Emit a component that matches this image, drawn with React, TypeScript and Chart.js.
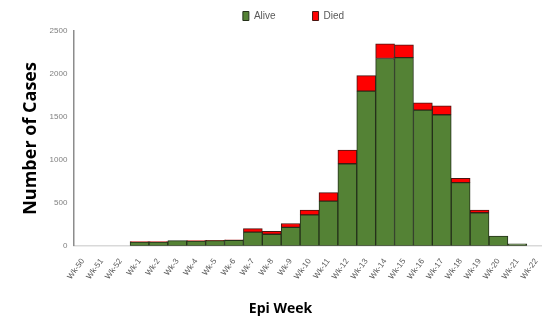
import React, { useEffect, useRef } from "react";
import { Chart, registerables } from "chart.js";

Chart.register(...registerables);

const categories = [
  "Wk-50", "Wk-51", "Wk-52", "Wk-1", "Wk-2", "Wk-3", "Wk-4", "Wk-5", "Wk-6", "Wk-7",
  "Wk-8", "Wk-9", "Wk-10", "Wk-11", "Wk-12", "Wk-13", "Wk-14", "Wk-15", "Wk-16", "Wk-17",
  "Wk-18", "Wk-19", "Wk-20", "Wk-21", "Wk-22",
];
const alive = [0, 0, 0, 45, 45, 60, 55, 60, 65, 160, 135, 215, 360, 520, 955, 1800, 2180, 2190, 1580, 1525, 735, 385, 115, 25, 0];
const died = [0, 0, 0, 5, 5, 0, 5, 5, 5, 40, 35, 45, 55, 100, 160, 180, 170, 150, 85, 105, 50, 30, 0, 0, 0];
const yTicks = [0, 500, 1000, 1500, 2000, 2500];

const SANS = "'Liberation Sans', Arial, sans-serif";
const BOLD = "'Open Sans', 'Liberation Sans', sans-serif";

const shiftPlugin = {
  id: "shiftBoxes",
  afterLayout(chart: any) {
    const lg = chart.legend;
    if (lg) {
      lg.left += 16;
      lg.right += 16;
      lg.top -= 26;
    }
    const t = chart.titleBlock;
    if (t) {
      t.left += 3;
      t.right += 3;
    }
  },
};

export default function App() {
  const ref = useRef<HTMLCanvasElement>(null);
  useEffect(() => {
    if (!ref.current) return;
    const chart = new Chart(ref.current, {
      type: "bar",
      data: {
        labels: categories,
        datasets: [
          {
            label: "Alive",
            data: alive,
            backgroundColor: "#548235",
            borderColor: "#24301a",
            borderWidth: 1,
            borderSkipped: false,
            barPercentage: 1,
            categoryPercentage: 1,
          },
          {
            label: "Died",
            data: died,
            backgroundColor: "#ff0000",
            borderColor: "#4a1410",
            borderWidth: 1,
            borderSkipped: false,
            barPercentage: 1,
            categoryPercentage: 1,
          },
        ],
      },
      options: {
        animation: false,
        responsive: false,
        maintainAspectRatio: false,
        layout: { padding: 0 },
        plugins: {
          legend: {
            position: "top",
            maxHeight: 31,
            labels: {
              boxWidth: 6,
              boxHeight: 9,
              padding: 37,
              color: "#595959",
              font: { family: SANS, size: 10 },
            },
          },
          title: {
            display: true,
            position: "bottom",
            text: "Epi Week",
            color: "#000",
            font: { family: BOLD, size: 14, weight: "bold" },
            padding: { top: 8, bottom: 2 },
          },
          tooltip: { enabled: false },
        },
        scales: {
          x: {
            stacked: true,
            grid: { display: false, drawTicks: false },
            border: { display: true, color: "#d9d9d9", width: 1.5 },
            ticks: {
              autoSkip: false,
              maxRotation: 54,
              minRotation: 54,
              padding: 11,
              color: "#595959",
              font: { family: SANS, size: 8 },
            },
          },
          y: {
            stacked: true,
            min: 0,
            max: 2500,
            afterBuildTicks: (scale: any) => {
              scale.ticks = yTicks.map((v) => ({ value: v }));
            },
            grid: { display: false, drawTicks: false },
            border: { display: true, color: "#8c8c8c", width: 1.5 },
            ticks: {
              padding: 6,
              color: "#7f7f7f",
              font: { family: SANS, size: 8 },
              callback: (v: any) => String(v),
            },
            title: {
              display: true,
              text: "Number of Cases",
              color: "#000",
              font: { family: BOLD, size: 18, weight: "bold" },
              padding: { top: 20, bottom: 2 },
            },
          },
        },
      },
      plugins: [shiftPlugin],
    } as any);
    return () => chart.destroy();
  }, []);
  return (
    <div style={{ position: "fixed", left: 0, top: 0, width: 542, height: 319, overflow: "hidden", background: "#fff" }}>
      <canvas ref={ref} width={555} height={319} style={{ width: 555, height: 319, display: "block" }} />
    </div>
  );
}
